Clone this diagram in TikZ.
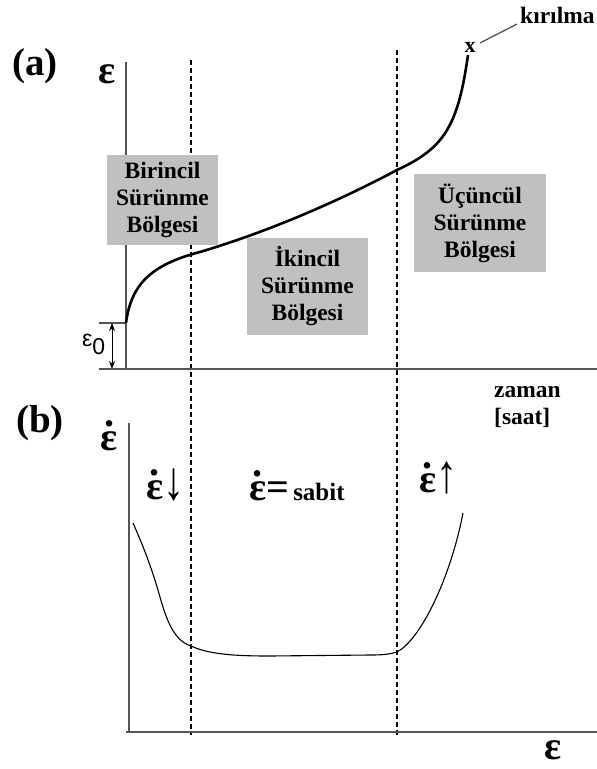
\documentclass[tikz,border=0pt]{standalone}
\usepackage{fontspec}
\setmainfont{Liberation Serif}
\newfontfamily\sansfam{Liberation Sans}
\usetikzlibrary{arrows.meta}
\definecolor{axisgray}{RGB}{85,85,85}
\definecolor{boxgray}{RGB}{192,192,192}
\newcommand\epsd{\leavevmode\hbox{\ooalign{ε\cr\hidewidth\raise0.58em\hbox{.}\hidewidth\cr}}}
\newcommand\bigarrow[1]{{\mdseries\fontsize{42}{42}\selectfont\scalebox{1}[1.3]{#1}}}
\tikzset{
  axis/.style={draw=axisgray, line width=1.5pt},
  divider/.style={draw=black, line width=1.2pt, dash pattern=on 5pt off 3pt},
  region/.style={fill=boxgray, inner sep=0pt, align=center, font=\fontsize{23.5}{27}\selectfont\bfseries},
  lbl/.style={inner sep=0pt, font=\fontsize{23.5}{27}\selectfont\bfseries},
  big/.style={inner sep=0pt, font=\fontsize{40}{44}\selectfont\bfseries},
  paren/.style={inner sep=0pt, font=\fontsize{39}{42}\selectfont\bfseries},
  creep/.style={draw=black, line width=2.6pt},
  rate/.style={draw=black, line width=1.1pt},
}
\begin{document}
\begin{tikzpicture}[x=1pt,y=-1pt]
\useasboundingbox (0,0) rectangle (597,769);
% region dividers
\draw[divider] (191,60) -- (191,735);
\draw[divider] (397,50) -- (397,735);
% axes (a)
\draw[axis] (126,62) -- (126,369) -- (597,369);
% epsilon_0 bracket
\coordinate (e0top) at (112,323);
\coordinate (e0bot) at (112,369);
\draw[axis, line width=1.2pt] (99,323) -- (126,323);
\draw[axis, line width=1.2pt] (99,369) -- (126,369);
\draw[line width=1pt, {Stealth[length=8pt,width=6pt]}-{Stealth[length=8pt,width=6pt]}] (e0top) -- (e0bot);
\node[inner sep=0pt, anchor=base west, font=\sansfam\fontsize{23}{25}\selectfont] (e0) at (82,346) {ε\raisebox{-8pt}{0}};
% axes (b)
\draw[axis] (129,423) -- (129,732);
\draw[axis] (126,732) -- (597,732);
% region boxes
\node[region, minimum width=111pt, minimum height=90pt] (prim) at (162.5,200) {Birincil\\Sürünme\\Bölgesi};
\node[region, minimum width=121pt, minimum height=97pt] (sec) at (307.5,286.5) {İkincil\\Sürünme\\Bölgesi};
\node[region, minimum width=132pt, minimum height=98pt] (ter) at (480,223) {Üçüncül\\Sürünme\\Bölgesi};
% creep curve (a)
\draw[creep] (126,323) .. controls (131,285) and (150,265) .. (200,252)
  .. controls (280,228) and (350,195) .. (397,170)
  .. controls (445,148) and (458,125) .. (468,55);
% strain rate curve (b)
\draw[rate] (133,523) .. controls (145,550) and (152,570) .. (158,590)
  .. controls (165,615) and (172,640) .. (191,646)
  .. controls (210,655) and (240,656) .. (270,656) -- (370,655)
  .. controls (385,655) and (390,654) .. (397,652)
  .. controls (420,640) and (450,580) .. (463,513);
% fracture
\node[inner sep=0pt, anchor=base, font=\fontsize{22}{24}\selectfont\bfseries] (xm) at (470,52) {x};
\node[lbl, anchor=base west] (kir) at (520,23) {kırılma};
\coordinate (kirend) at (517,24);
\coordinate (xmend) at (480,43);
\draw[draw=axisgray, line width=1.3pt] (xmend) -- (kirend);
% labels
\node[paren, anchor=base west] (pa) at (12,75) {(a)};
\node[big, anchor=base] (ea) at (107,83) {ε};
\node[paren, anchor=base west] (pb) at (16,432) {(b)};
\node[big, anchor=base] (eb) at (109,450) {\epsd};
\node[big, anchor=base west] (edec) at (146,499) {\epsd\bigarrow{↓}};
\node[big, anchor=base west] (econ) at (249,500) {\epsd=\fontsize{25}{28}\selectfont\,sabit};
\node[big, anchor=base west] (einc) at (419,492) {\epsd\bigarrow{↑}};
\node[big, anchor=base] (ex) at (553,759) {ε};
\node[lbl, anchor=base west] (time1) at (494,397) {zaman};
\node[lbl, anchor=base west] (time2) at (494,424) {[saat]};
\end{tikzpicture}
\end{document}
